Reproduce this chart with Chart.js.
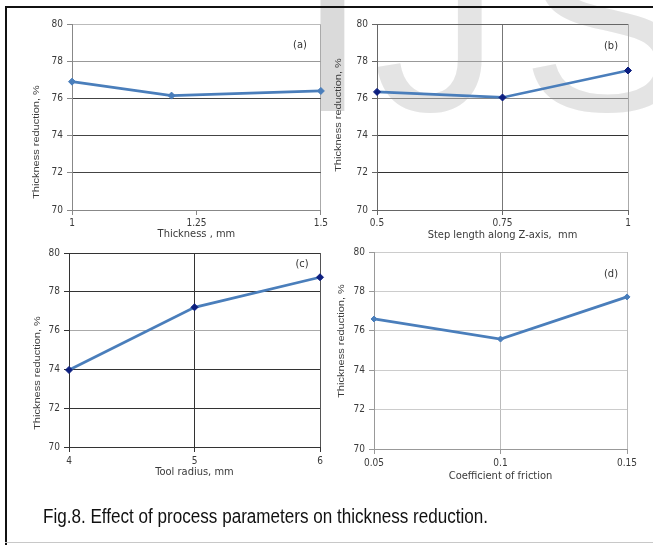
<!DOCTYPE html>
<html><head><meta charset="utf-8">
<script src="https://cdn.jsdelivr.net/npm/chart.js@4.4.1/dist/chart.umd.min.js"></script>
<style>
html,body{margin:0;padding:0;background:#fff;}
#wrap{position:relative;width:653px;height:545px;overflow:hidden;background:#fff;}
canvas{position:absolute;}
svg{position:absolute;left:0;top:0;}
.ln{position:absolute;}
.lbl{position:absolute;font:11px 'Liberation Sans Narrow','DejaVu Sans Condensed',Arial,sans-serif;color:#333;transform:translate(-50%,-50%);white-space:nowrap;}
</style></head><body>
<div id="wrap">
<svg width="653" height="545">
  <text x="297" y="111" font-family="Liberation Sans, Arial, sans-serif" font-size="255" fill="#dadada">I</text>
  <text x="373" y="111" font-family="Liberation Sans, Arial, sans-serif" font-size="255" fill="#e4e4e4">J</text>
  <text x="521" y="111" font-family="Liberation Sans, Arial, sans-serif" font-size="255" fill="#e4e4e4">S</text>
</svg>
<div class="ln" style="left:5px;top:6px;width:648px;height:2px;background:#111"></div>
<div class="ln" style="left:5px;top:6px;width:2px;height:539px;background:#111"></div>
<div class="ln" style="left:5px;top:542px;width:648px;height:1px;background:#c8c8c8"></div>
<canvas id="ca" width="330" height="245" style="left:0px;top:0px"></canvas>
<canvas id="cb" width="328" height="245" style="left:325px;top:0px"></canvas>
<canvas id="cc" width="330" height="250" style="left:0px;top:235px"></canvas>
<canvas id="cd" width="328" height="250" style="left:325px;top:235px"></canvas>
<div class="lbl" style="left:300px;top:44px">(a)</div>
<div class="lbl" style="left:611px;top:45px">(b)</div>
<div class="lbl" style="left:302px;top:263px">(c)</div>
<div class="lbl" style="left:611px;top:273px">(d)</div>
<svg width="653" height="545" style="pointer-events:none">
  <text x="43" y="523" font-family="Liberation Sans, Arial, sans-serif" font-size="19.5" fill="#111" textLength="445" lengthAdjust="spacingAndGlyphs">Fig.8. Effect of process parameters on thickness reduction.</text>
</svg>
</div>
<script>
// ---- data ----
const yTicks = [70, 72, 74, 76, 78, 80];
const yTitle = 'Thickness reduction, %';

const xTicksA = [1, 1.25, 1.5];
const xA = [1, 1.2, 1.5];
const yA = [76.9, 76.15, 76.4];

const xTicksB = [0.5, 0.75, 1];
const xB = [0.5, 0.75, 1];
const yB = [76.35, 76.05, 77.5];

const xTicksC = [4, 5, 6];
const xC = [4, 5, 6];
const yC = [73.97, 77.2, 78.75];

const xTicksD = [0.05, 0.1, 0.15];
const xTickLabelsD = ['0.05', '0.1', '0.15'];
const xD = [0.05, 0.1, 0.15];
const yD = [76.6, 75.58, 77.72];

const xTitles = ['Thickness , mm', 'Step length along Z-axis,  mm', 'Tool radius, mm', 'Coefficient of friction'];

// ---- rendering ----
const NARROW = "'Liberation Sans Narrow','DejaVu Sans Condensed',Arial,sans-serif";
const REG = "'Liberation Sans',Arial,sans-serif";

const yTitlePlugin = {
  id: 'ytitle',
  afterDraw(chart, args, o) {
    const ctx = chart.ctx;
    ctx.save();
    ctx.translate(o.x, o.y);
    ctx.rotate(-Math.PI / 2);
    ctx.scale(1, 0.82);
    ctx.font = '11px ' + REG;
    ctx.fillStyle = o.color;
    ctx.textAlign = 'center';
    ctx.textBaseline = 'middle';
    ctx.fillText(o.text, 0, 0);
    ctx.restore();
  }
};

function make(id, xs, ys, xTicks, xLabels, xTitle, g) {
  const xmin = xTicks[0], xmax = xTicks[xTicks.length - 1];
  new Chart(document.getElementById(id), {
    type: 'line',
    data: {
      datasets: [{
        data: xs.map((x, i) => ({x: x, y: ys[i]})),
        borderColor: g.line,
        borderWidth: 2.75,
        pointStyle: 'rectRot',
        pointRadius: g.pr,
        pointBackgroundColor: g.marker,
        pointBorderColor: g.marker,
        pointBorderWidth: 1,
        tension: 0,
        clip: false
      }]
    },
    options: {
      responsive: false,
      animation: false,
      events: [],
      layout: {padding: {left: 0, top: g.top, right: g.right, bottom: 0}},
      plugins: {
        legend: {display: false},
        tooltip: {enabled: false},
        ytitle: {x: g.ytx, y: g.yty, text: yTitle, color: g.text}
      },
      scales: {
        x: {
          type: 'linear', min: xmin, max: xmax,
          afterBuildTicks: ax => { ax.ticks = xTicks.map(v => ({value: v})); },
          afterFit: ax => { ax.height = g.xh; },
          ticks: {
            color: g.text, padding: g.xtp, maxRotation: 0, autoSkip: false,
            font: {family: NARROW, size: 10},
            callback: (v) => { const i = xTicks.indexOf(v); return xLabels ? xLabels[i] : String(v); }
          },
          grid: {
            color: c => g.xgrid[xTicks.indexOf(c.tick.value)],
            tickColor: g.tick, tickLength: 5, lineWidth: 1
          },
          border: {color: g.axis, width: 1},
          title: {display: true, text: xTitle, color: g.text,
                  font: {family: NARROW, size: 11}, padding: {top: 0, bottom: g.xtitlePad}}
        },
        y: {
          type: 'linear', min: 70, max: 80,
          afterBuildTicks: ax => { ax.ticks = yTicks.map(v => ({value: v})); },
          afterFit: ax => { ax.width = g.yw; },
          ticks: {color: g.text, padding: 4, font: {family: NARROW, size: 10}, callback: v => String(v)},
          grid: {
            color: c => g.ygrid[yTicks.indexOf(c.tick.value)],
            tickColor: g.tick, tickLength: 5, lineWidth: 1
          },
          border: {color: g.axis, width: 1}
        }
      }
    },
    plugins: [yTitlePlugin]
  });
}

const BLUE = '#4a7ebb', NAVY = '#0d1f80', TXT = '#3a3a3a';

make('ca', xA, yA, xTicksA, null, xTitles[0], {
  top: 24, right: 9, yw: 72, xh: 35, xtp: 2, xtitlePad: 4,
  ytx: 37, yty: 142, line: BLUE, marker: BLUE, pr: 3.5, text: TXT,
  axis: '#888', tick: '#888',
  ygrid: ['#888', '#444', '#444', '#444', '#999', '#bbb'],
  xgrid: ['#888', 'rgba(0,0,0,0)', '#aaa']
});
make('cb', xB, yB, xTicksB, null, xTitles[1], {
  top: 24, right: 25, yw: 52, xh: 35, xtp: 2, xtitlePad: 3,
  ytx: 14, yty: 115, line: BLUE, marker: NAVY, pr: 3.5, text: TXT,
  axis: '#666', tick: '#666',
  ygrid: ['#666', '#333', '#333', '#888', '#999', '#666'],
  xgrid: ['#666', '#777', '#aaa']
});
make('cc', xC, yC, xTicksC, null, xTitles[2], {
  top: 18, right: 10, yw: 69, xh: 38, xtp: 3, xtitlePad: 6,
  ytx: 38, yty: 138, line: BLUE, marker: NAVY, pr: 3.5, text: TXT,
  axis: '#333', tick: '#333',
  ygrid: ['#333', '#333', '#333', '#aaa', '#333', '#333'],
  xgrid: ['#333', '#333', '#555']
});
make('cd', xD, yD, xTicksD, xTickLabelsD, xTitles[3], {
  top: 17, right: 26, yw: 49, xh: 36, xtp: 3, xtitlePad: 2.5,
  ytx: 17, yty: 106, line: BLUE, marker: BLUE, pr: 3, text: TXT,
  axis: '#999', tick: '#999',
  ygrid: ['#999', '#ccc', '#ccc', '#ccc', '#ccc', '#ccc'],
  xgrid: ['#999', '#bbb', '#bbb']
});
</script>
</body></html>
